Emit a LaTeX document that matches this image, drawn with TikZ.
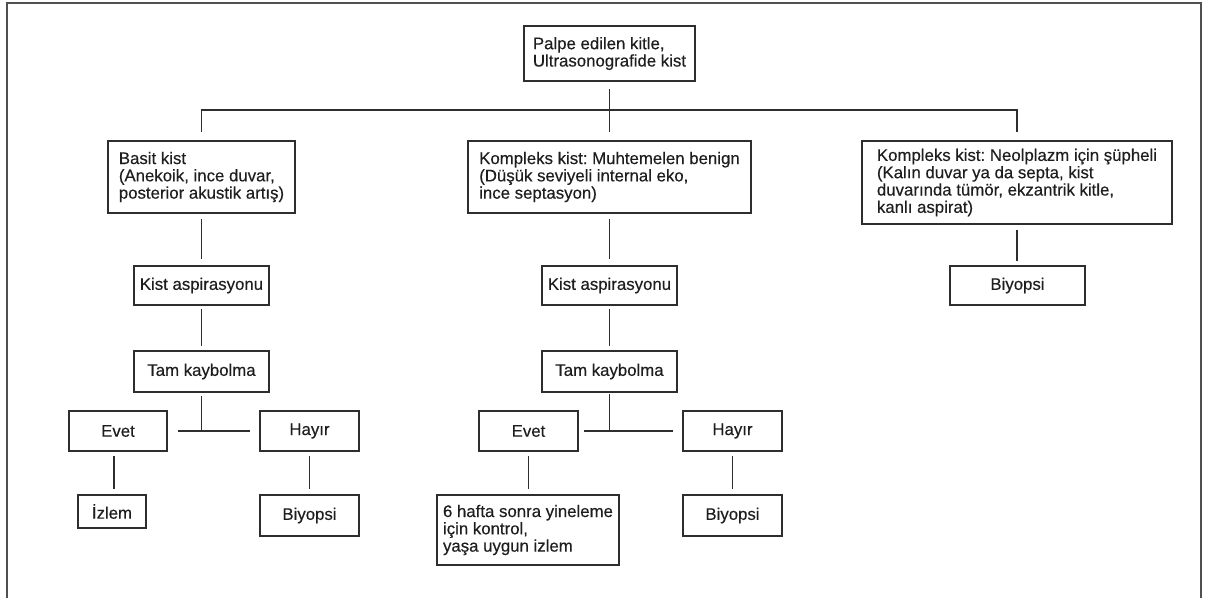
\documentclass[tikz,border=0pt]{standalone}
\usepackage{fontspec}
\setmainfont[FakeBold=0.35]{Liberation Sans}
\definecolor{ink}{HTML}{2E2E2E}
\definecolor{txt}{HTML}{1E1E1E}
\definecolor{framecol}{HTML}{505050}
\frenchspacing
\begin{document}
\begin{tikzpicture}[x=1pt,y=-1pt,
  font=\fontsize{16.8}{17.3}\selectfont,
  box/.style 2 args={draw=ink, line width=1.7pt, inner sep=0pt, text=txt,
    align=left, minimum width=#1, minimum height=#2},
  link/.style={draw=ink, line width=1.7pt}]
\useasboundingbox (0,0) rectangle (1210,598);

% open frame round the chart
\draw[framecol, line width=1.5pt] (7,598) -- (7,3) -- (1201,3) -- (1201,598);

% root
\node[box={171pt}{55pt}] (top) at (609.5,53.5) {Palpe edilen kitle,\\Ultrasonografide kist};

% three kinds of cyst
\node[box={187pt}{72pt}] (basit) at (201.5,177) {Basit kist\\(Anekoik, ince duvar,\\posterior akustik artış)};
\node[box={283pt}{72pt}] (komp1) at (609.5,177) {Kompleks kist: Muhtemelen benign\\(Düşük seviyeli internal eko,\\ince septasyon)};
\node[box={310pt}{83pt}] (komp2) at (1017,182.5) {Kompleks kist: Neolplazm için şüpheli\\(Kalın duvar ya da septa, kist\\duvarında tümör, ekzantrik kitle,\\kanlı aspirat)};

% left branch
\node[box={135pt}{39pt}] (asp1) at (201.5,285.5) {Kist aspirasyonu};
\node[box={135pt}{41pt}] (tam1) at (201.5,371.5) {Tam kaybolma};
\node[box={98pt}{40pt}] (evet1) at (118,431) {Evet};
\node[box={99pt}{40pt}] (hayir1) at (309.5,431) {Hayır};
\node[box={68pt}{33pt}] (izlem) at (112,511.5) {İzlem};
\node[box={99pt}{41pt}] (biyo1) at (309.5,515.5) {Biyopsi};

% middle branch
\node[box={135pt}{39pt}] (asp2) at (609.5,285.5) {Kist aspirasyonu};
\node[box={135pt}{41pt}] (tam2) at (609.5,371.5) {Tam kaybolma};
\node[box={99pt}{40pt}] (evet2) at (528.5,431) {Evet};
\node[box={99pt}{40pt}] (hayir2) at (732.5,431) {Hayır};
\node[box={182pt}{70pt}] (kontrol) at (528,530) {6 hafta sonra yineleme\\için kontrol,\\yaşa uygun izlem};
\node[box={99pt}{41pt}] (biyo2) at (732.5,515.5) {Biyopsi};

% right branch
\node[box={135pt}{39pt}] (biyo3) at (1017.5,285.5) {Biyopsi};

% connectors
\draw[link, shorten <=7pt, shorten >=8pt] (top) -- (komp1);
\draw[link] ([yshift=8pt]basit.north) |- ([yshift=30pt]komp1.north) -| ([yshift=8pt]komp2.north);

\draw[link, shorten <=5pt, shorten >=6pt] (basit) -- (asp1);
\draw[link, shorten <=3pt, shorten >=4pt] (asp1) -- (tam1);
\coordinate (j1) at (tam1.south |- evet1.east);
\draw[link, shorten <=3pt] (tam1.south) -- (j1);
\draw[link, shorten <=10pt, shorten >=9pt] (evet1.east) -- (hayir1.west);
\draw[link, shorten <=4pt, shorten >=5pt] ([xshift=-4pt]evet1.south) -- ([xshift=2pt]izlem.north);
\draw[link, shorten <=4pt, shorten >=5pt] (hayir1) -- (biyo1);

\draw[link, shorten <=5pt, shorten >=6pt] (komp1) -- (asp2);
\draw[link, shorten <=3pt, shorten >=4pt] (asp2) -- (tam2);
\coordinate (j2) at (tam2.south |- evet2.east);
\draw[link, shorten <=1pt] (tam2.south) -- (j2);
\draw[link, shorten <=5pt, shorten >=9pt] (evet2.east) -- (hayir2.west);
\draw[link, shorten <=4pt, shorten >=5pt] (evet2.south) -- (evet2.south |- kontrol.north);
\draw[link, shorten <=4pt, shorten >=5pt] (hayir2) -- (biyo2);

\draw[link, shorten <=5pt, shorten >=4pt] (komp2.south) -- (komp2.south |- biyo3.north);
\end{tikzpicture}
\end{document}
